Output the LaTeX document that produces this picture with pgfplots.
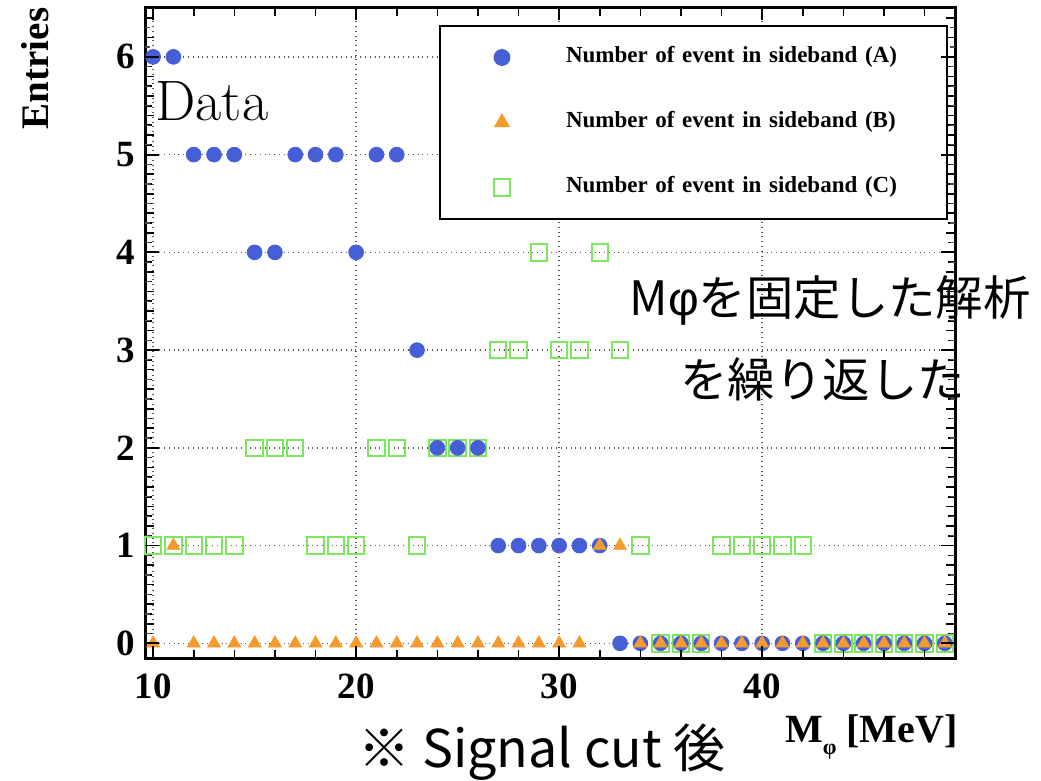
\documentclass[border=0pt]{standalone}
\usepackage{fontspec}
\usepackage{pgfplots}
\pgfplotsset{compat=1.18}
\newfontfamily\tms{Liberation Serif}
\newfontfamily\cjk{Noto Sans CJK JP}
\newfontfamily\lsans{Liberation Sans}
\definecolor{cA}{RGB}{70,95,215}
\definecolor{cB}{RGB}{245,155,45}
\definecolor{cC}{RGB}{125,230,95}
\begin{document}
\begin{tikzpicture}
\path[draw=none, fill=none] (-72.5bp,-61bp) rectangle (448bp,329bp);
\begin{axis}[
  scale only axis, width=405bp, height=325bp,
  xmin=9.6, xmax=49.5, ymin=-0.15, ymax=6.5,
  xtick={10,20,30,40}, ytick={0,1,2,3,4,5,6},
  xticklabels={10,20,30,40}, yticklabels={0,1,2,3,4,5,6},
  minor x tick num=4, minor y tick num=9,
  tick align=inside,
  major tick length=6bp, minor tick length=3.5bp,
  xmajorgrids=true, ymajorgrids=true,
  major grid style={dotted, line width=0.8pt, black!65},
  axis line style={line width=1.5bp},
  every tick/.style={solid, black, line width=0.8bp},
  xticklabel style={font=\tms\bfseries\fontsize{18.5bp}{20bp}\selectfont, inner sep=0pt, yshift=-7.5bp},
  yticklabel style={font=\tms\bfseries\fontsize{18.5bp}{20bp}\selectfont, inner sep=0pt, xshift=-5bp},
  legend cell align=left,
  legend style={at={(rel axis cs:0.36296,0.97385)}, anchor=north west, draw=black, line width=1bp, fill=white,
    inner xsep=15.5bp, inner ysep=10.25bp, row sep=21.5bp, column sep=16.5bp,
    font=\tms\bfseries\fontsize{11.5bp}{13bp}\selectfont,
    nodes={inner sep=0pt, text height=8bp, text depth=3bp, text width=175bp, align=left}},
  legend image code/.code={\path[draw=none, fill=none] (0bp,-5.5bp) rectangle (31bp,5.5bp); \draw[#1] plot coordinates {(15.5bp,0bp)};},
]
\addlegendimage{only marks, mark=*, color=cA, mark size=3.7bp}
\addlegendentry{Number of event in sideband (A)}
\addlegendimage{only marks, mark=triangle*, color=cB, mark size=3.7bp}
\addlegendentry{Number of event in sideband (B)}
\addlegendimage{only marks, mark=square, color=cC, mark size=4.1bp, line width=1bp}
\addlegendentry{Number of event in sideband (C)}

% sideband (C)
\addplot[only marks, mark=square, color=cC, mark size=4.1bp, line width=1bp, forget plot] coordinates {
(10,1)(11,1)(12,1)(13,1)(14,1)(15,2)(16,2)(17,2)(18,1)(19,1)(20,1)(21,2)(22,2)(23,1)(24,2)(25,2)(26,2)
(27,3)(28,3)(29,4)(30,3)(31,3)(32,4)(33,3)(34,1)(35,0)(36,0)(37,0)(38,1)(39,1)(40,1)(41,1)(42,1)
(43,0)(44,0)(45,0)(46,0)(47,0)(48,0)(49,0)};
% sideband (A)
\addplot[only marks, mark=*, color=cA, mark size=3.7bp, forget plot] coordinates {
(10,6)(11,6)(12,5)(13,5)(14,5)(15,4)(16,4)(17,5)(18,5)(19,5)(20,4)(21,5)(22,5)(23,3)(24,2)(25,2)(26,2)
(27,1)(28,1)(29,1)(30,1)(31,1)(32,1)(33,0)(34,0)(35,0)(36,0)(37,0)(38,0)(39,0)(40,0)(41,0)(42,0)
(43,0)(44,0)(45,0)(46,0)(47,0)(48,0)(49,0)};
% sideband (B)
\addplot[only marks, mark=triangle*, color=cB, mark size=3.7bp, forget plot] coordinates {
(10,0)(11,1)(12,0)(13,0)(14,0)(15,0)(16,0)(17,0)(18,0)(19,0)(20,0)(21,0)(22,0)(23,0)(24,0)(25,0)(26,0)
(27,0)(28,0)(29,0)(30,0)(31,0)(32,1)(33,1)(34,0)(35,0)(36,0)(37,0)(38,0)(39,0)(40,0)(41,0)(42,0)
(43,0)(44,0)(45,0)(46,0)(47,0)(48,0)(49,0)};
\end{axis}
% axis ticks on all four sides, in the axis' own scale (405bp / 39.9, 325bp / 6.65)
\begin{scope}[x=10.1504bp, y=48.872bp, shift={(-97.444bp,7.3308bp)}]
\foreach \v in {10,20,30,40} {
  \draw[black, line width=0.9bp] (\v,-0.15) -- (\v,-0.0272);
  \draw[black, line width=0.9bp] (\v,6.5) -- (\v,6.3772);
}
\foreach \v in {12,14,16,18,22,24,26,28,32,34,36,38,42,44,46,48} {
  \draw[black, line width=0.8bp] (\v,-0.15) -- (\v,-0.0682);
  \draw[black, line width=0.8bp] (\v,6.5) -- (\v,6.4182);
}
\foreach \v in {0,1,2,3,4,5,6} {
  \draw[black, line width=0.9bp] (9.6,\v) -- (10.2896,\v);
  \draw[black, line width=0.9bp] (49.5,\v) -- (48.8104,\v);
}
\foreach \v in {0.2,0.4,0.6,0.8,1.2,1.4,1.6,1.8,2.2,2.4,2.6,2.8,3.2,3.4,3.6,3.8,4.2,4.4,4.6,4.8,5.2,5.4,5.6,5.8,6.2,6.4} {
  \draw[black, line width=0.8bp] (9.6,\v) -- (10.0433,\v);
  \draw[black, line width=0.8bp] (49.5,\v) -- (49.0567,\v);
}
\foreach \v in {0.1,0.3,0.5,0.7,0.9,1.1,1.3,1.5,1.7,1.9,2.1,2.3,2.5,2.7,2.9,3.1,3.3,3.5,3.7,3.9,4.1,4.3,4.5,4.7,4.9,5.1,5.3,5.5,5.7,5.9,6.1,6.3} {
  \draw[black!70, line width=0.6bp] (9.6,\v) -- (9.8463,\v);
  \draw[black!70, line width=0.6bp] (49.5,\v) -- (49.2537,\v);
}
\end{scope}
\node[font=\tms\bfseries\fontsize{19.5bp}{21bp}\selectfont, rotate=90, inner sep=0pt] at (-55bp,294.75bp) {Entries};
\node[font=\tms\bfseries\fontsize{20bp}{22bp}\selectfont, anchor=base east, inner sep=0pt] at (406.5bp,-42bp) {M\raisebox{-0.3em}{\fontsize{11bp}{11bp}\selectfont φ} [MeV]};
\node[font=\fontsize{28.5bp}{30bp}\selectfont, anchor=base west, inner sep=0pt] at (5bp,268.5bp) {Data};
\node[font=\cjk\fontsize{23.7bp}{26bp}\selectfont, anchor=east, inner sep=0pt] at (443bp,179bp) {M{\lsans φ}を固定した解析};
\node[font=\cjk\fontsize{23.7bp}{26bp}\selectfont, anchor=west, inner sep=0pt] at (267.5bp,139.5bp) {を繰り返した};
\node[font=\cjk\fontsize{26bp}{28bp}\selectfont, inner sep=0pt] at (198.5bp,-47bp) {※ Signal cut 後};
\end{tikzpicture}
\end{document}
